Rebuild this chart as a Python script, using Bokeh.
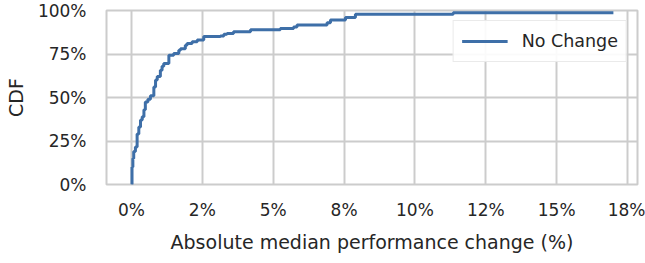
from bokeh.plotting import figure
from bokeh.models import Range1d, FixedTicker, Legend, LegendItem
from bokeh.embed import file_html
from bokeh.resources import INLINE

# ---- data ----
change_pct = [0.0, 0.02, 0.05, 0.08, 0.14, 0.2, 0.26, 0.32, 0.38, 0.44, 0.49, 0.58, 0.67,
              0.79, 0.85, 0.91, 1.02, 1.08, 1.14, 1.32, 1.49, 1.67, 1.73, 1.9, 1.96, 2.14,
              2.32, 2.55, 3.14, 3.26, 3.37, 3.6, 4.2, 5.25, 5.72, 5.84, 6.9, 7.02, 7.55,
              7.9, 11.35, 17.0]
cdf = [0.0, 0.10, 0.15, 0.19, 0.215, 0.29, 0.33, 0.37, 0.39, 0.43, 0.474, 0.49, 0.51,
       0.56, 0.60, 0.62, 0.657, 0.68, 0.695, 0.743, 0.753, 0.772, 0.78, 0.80, 0.81, 0.82,
       0.83, 0.85, 0.853, 0.864, 0.868, 0.878, 0.89, 0.897, 0.905, 0.916, 0.93, 0.945,
       0.96, 0.978, 0.987, 0.987]
series_name = "No Change"
x_ticks = [0, 2.5, 5, 7.5, 10, 12.5, 15, 17.5]
x_tick_labels = ["0%", "2%", "5%", "8%", "10%", "12%", "15%", "18%"]
y_ticks = [0, 0.25, 0.5, 0.75, 1.0]
y_tick_labels = ["0%", "25%", "50%", "75%", "100%"]

FONT = "DejaVu Sans"
TXT = "#262626"
GRID = "#cccccc"
BLUE = "#3e6fa8"

p = figure(width=645, height=263, output_backend="svg", toolbar_location=None,
           x_range=Range1d(-0.88, 17.85), y_range=Range1d(0, 1),
           min_border_left=106, min_border_right=8, min_border_top=10, min_border_bottom=79)

r = p.step(change_pct, cdf, mode="after", line_color=BLUE, line_width=3)

p.outline_line_color = GRID
p.outline_line_width = 2
p.background_fill_color = "white"
p.border_fill_color = "white"

for ax in (p.xaxis[0], p.yaxis[0]):
    ax.axis_line_color = None
    ax.major_tick_line_color = None
    ax.minor_tick_line_color = None
    ax.major_tick_out = 0
    ax.major_tick_in = 0
    ax.minor_tick_out = 0
    ax.major_label_text_font = FONT
    ax.major_label_text_font_size = "17px"
    ax.major_label_text_color = TXT
    ax.major_label_text_line_height = 1.0
    ax.axis_label_text_font = FONT
    ax.axis_label_text_font_size = "19px"
    ax.axis_label_text_font_style = "normal"
    ax.axis_label_text_color = TXT
    ax.axis_label_text_line_height = 1.0

p.xaxis.ticker = FixedTicker(ticks=x_ticks)
p.xaxis.major_label_overrides = {t: l for t, l in zip(x_ticks, x_tick_labels)}
p.yaxis.ticker = FixedTicker(ticks=y_ticks)
p.yaxis.major_label_overrides = {t: l for t, l in zip(y_ticks, y_tick_labels)}
p.xaxis.axis_label = "Absolute median performance change (%)"
p.yaxis.axis_label = "CDF"
p.xaxis.major_label_standoff = 15
p.yaxis.major_label_standoff = 20
p.xaxis.axis_label_standoff = 8
p.yaxis.axis_label_standoff = 8

p.xgrid.grid_line_color = GRID
p.ygrid.grid_line_color = GRID
p.xgrid.grid_line_width = 2
p.ygrid.grid_line_width = 2

legend = Legend(items=[LegendItem(label=series_name, renderers=[r])], location="top_right")
legend.label_text_font = FONT
legend.label_text_font_size = "17.5px"
legend.label_text_color = TXT
legend.glyph_width = 46
legend.glyph_height = 24
legend.label_height = 24
legend.label_standoff = 14
legend.padding = 8
legend.margin = 10
legend.border_line_color = "#d6d6d6"
legend.border_line_width = 1.5
legend.background_fill_color = "white"
legend.background_fill_alpha = 0.9
p.add_layout(legend)

open("out.html", "w").write(file_html(p, INLINE))
